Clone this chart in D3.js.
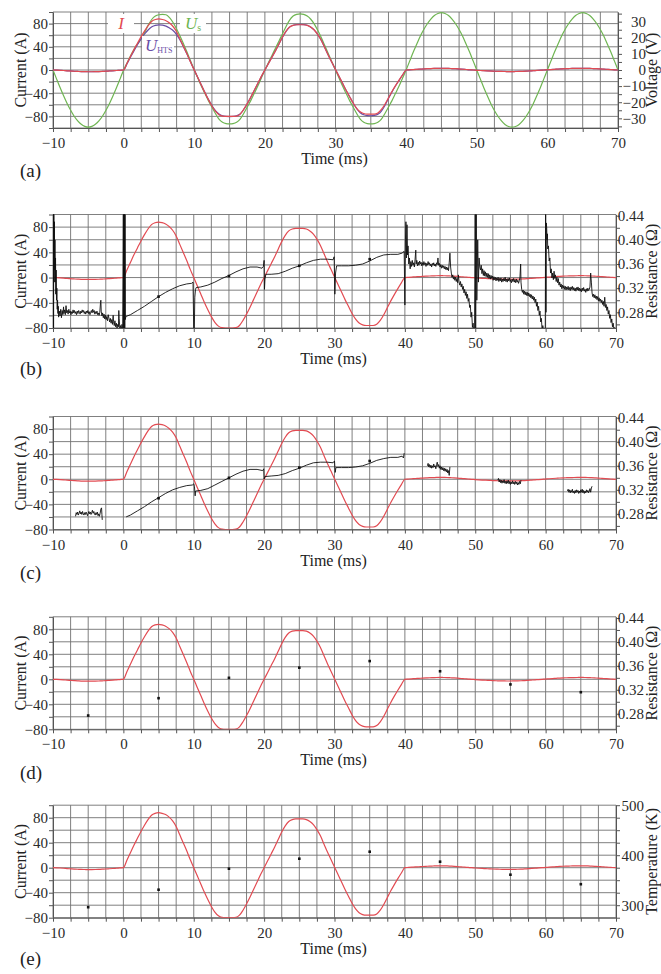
<!DOCTYPE html>
<html><head><meta charset="utf-8">
<script src="https://cdnjs.cloudflare.com/ajax/libs/d3/7.8.5/d3.min.js"></script>
<style>
body{margin:0;background:#fff}
text{font-family:"Liberation Serif","Times New Roman",serif;fill:#222}
</style>
</head><body><script>
// ---------------- DATA ----------------
const timeMs = d3.range(-10, 70.001, 0.5); // sample times (ms), 161 samples
const currentI = [
 0,-0.2,-0.5,-0.9,-1.4,-1.8,-2.2,-2.5,-2.8,-2.9,-3,-3,-2.9,-2.7,-2.4,-2.1,-1.7,-1.3,-0.9,-0.4,0,
 12,24,36,47,58,68,77,84,87,88,87,85,81,75,66,53,40,27,13,0,
 -13,-26,-39,-51,-62,-71,-77,-79.5,-80,-80,-80,-79.5,-76,-68,-58,-47,-35,-23,-11,0,
 11,22,33,45,57,67,74,77,78,78,78,77,74,69,61,51,38,25,13,1,
 -11,-23,-35,-46,-57,-66,-72,-75,-76,-76,-76,-74,-68,-59,-48,-37,-27,-17.5,-8.5,0,
 0.4,0.8,1.2,1.5,1.9,2.2,2.5,2.7,2.9,3,2.9,2.8,2.5,2.2,1.8,1.3,0.9,0.4,0,
 -0.5,-0.9,-1.2,-1.5,-1.8,-2.1,-2.3,-2.5,-2.6,-2.7,-2.7,-2.6,-2.5,-2.3,-2,-1.6,-1.2,-0.8,-0.4,0,
 0.4,0.8,1.2,1.6,2,2.3,2.5,2.7,2.8,2.9,3,2.9,2.8,2.5,2.2,1.9,1.5,1.1,0.7,0.3,0
];
const voltageUs = [
 0,-5.5,-10.9,-16,-20.8,-25,-28.7,-31.6,-33.7,-35,-35.5,-35,-33.7,-31.6,-28.7,-25,-20.8,-16,-10.9,-5.5,0,
 4.5,9,13,16.5,19.5,23.5,28,31.5,33.5,34.3,34.5,34.3,32.5,29.5,25.5,21,16,10.8,5.4,0,
 -5,-10,-14.5,-19,-23,-27,-30.5,-32.5,-33.3,-33.5,-33.3,-32.5,-30.5,-27,-23,-19,-14.5,-10,-5,0,
 4.5,9,13.5,18,22.5,27,31,33.5,34.5,34.8,34.5,33.5,31.5,28.5,24.5,20,15,10,5,0,
 -5,-10,-14.5,-19,-23,-27,-30.5,-32.5,-33.3,-33.5,-33.3,-32.5,-30.5,-27,-23,-19,-14.5,-10,-5,0,
 5.5,11,16,20.9,25.1,28.7,31.6,33.8,35.1,35.6,35.1,33.8,31.6,28.7,25.1,20.9,16,11,5.5,0,
 -5.5,-11,-16,-20.9,-25.1,-28.7,-31.6,-33.8,-35.1,-35.5,-35.1,-33.8,-31.6,-28.7,-25.1,-20.9,-16,-11,-5.5,0,
 5.5,11,16,20.9,25.1,28.7,31.6,33.8,35.1,35.6,35.1,33.8,31.6,28.7,25.1,20.9,16,11,5.5,0
];
const voltageUhts = [
 0,-0.1,-0.2,-0.3,-0.5,-0.6,-0.8,-0.9,-1,-1,-1.1,-1.1,-1,-1,-0.9,-0.8,-0.6,-0.5,-0.3,-0.2,0,
 4,8.2,12.2,16,19.5,22.5,25,26.8,27.7,28,27.8,27.2,26,24.5,22,18.5,14.2,9.6,4.8,0,
 -4.6,-9.3,-13.8,-18.2,-22,-25.2,-27.3,-28.4,-28.8,-28.9,-28.8,-28.4,-27.3,-24.5,-21,-17,-12.7,-8.4,-4.1,0,
 4,8,12,16.2,20.4,24,26.6,27.8,28.2,28.3,28.2,27.8,26.6,24.8,22,18.4,13.7,9,4.6,0.3,
 -4,-8.3,-12.6,-16.6,-20.5,-24,-26.5,-27.8,-28.3,-28.4,-28.2,-27.5,-25.5,-22,-17.7,-13.6,-9.8,-6.4,-3.1,0,
 0.1,0.3,0.4,0.5,0.7,0.8,0.9,1,1,1.1,1,1,0.9,0.8,0.6,0.5,0.3,0.1,0,
 -0.2,-0.3,-0.4,-0.5,-0.6,-0.8,-0.8,-0.9,-0.9,-1,-1,-0.9,-0.9,-0.8,-0.7,-0.6,-0.4,-0.3,-0.1,0,
 0.1,0.3,0.4,0.6,0.7,0.8,0.9,1,1,1,1.1,1,1,0.9,0.8,0.7,0.5,0.4,0.3,0.1,0
];
const dotTimes = [-5,5,15,25,35,45,55,65];
const resistanceDots = [0.277,0.306,0.340,0.357,0.368,0.351,0.329,0.316];
const temperatureDots = [296,331,373,393,407,387,361,342];
const curveDotTimes = [5,15,25,35];

// measured resistance (panel b): [time ms, resistance Ohm]
const resistanceRaw = [
[-10.00,0.45],[-9.98,0.25],[-9.95,0.45],[-9.92,0.25],[-9.88,0.45],[-9.84,0.33],[-9.8,0.43],[-9.76,0.35],[-9.72,0.40],[-9.68,0.33],[-9.64,0.37],[-9.6,0.31],[-9.55,0.35],[-9.5,0.30],[-9.45,0.32],[-9.4,0.285],[-9.35,0.30],[-9.3,0.278],[-9.25,0.29],[-9.2,0.272],[-9.1,0.282],[-9.0,0.274],[-8.9,0.285],[-8.8,0.271],[-8.7,0.283],[-8.6,0.276],[-8.5,0.289],[-8.45,0.278],[-8.35,0.284],[-8.25,0.276],[-8.15,0.291],[-8.05,0.279],[-7.95,0.283],[-7.85,0.277],[-7.75,0.285],[-7.65,0.279],[-7.55,0.282],[-7.45,0.276],[-7.35,0.281],[-7.25,0.278],[-7.15,0.284],[-7.05,0.279],[-6.95,0.283],[-6.85,0.278],[-6.75,0.281],[-6.65,0.276],[-6.55,0.282],[-6.45,0.278],[-6.35,0.283],[-6.25,0.28],[-6.15,0.277],[-6.05,0.282],[-5.95,0.279],[-5.85,0.284],[-5.75,0.28],[-5.65,0.283],[-5.55,0.278],[-5.45,0.281],[-5.35,0.277],[-5.25,0.282],[-5.15,0.279],[-5.05,0.283],[-4.95,0.278],[-4.85,0.281],[-4.75,0.276],[-4.65,0.28],[-4.55,0.283],[-4.45,0.279],[-4.35,0.285],[-4.25,0.28],[-4.15,0.283],[-4.05,0.277],[-3.95,0.281],[-3.85,0.278],[-3.75,0.282],[-3.65,0.276],[-3.55,0.279],[-3.45,0.275],[-3.35,0.28],[-3.25,0.296],[-3.2,0.30],[-3.15,0.282],[-3.05,0.274],[-2.95,0.279],[-2.85,0.271],[-2.75,0.277],[-2.65,0.269],[-2.55,0.275],[-2.45,0.268],[-2.35,0.273],[-2.25,0.266],[-2.15,0.276],[-2.05,0.27],[-1.95,0.264],[-1.85,0.27],[-1.75,0.262],[-1.65,0.268],[-1.55,0.26],[-1.45,0.275],[-1.4,0.265],[-1.3,0.258],[-1.2,0.266],[-1.1,0.256],[-1.0,0.262],[-0.9,0.254],[-0.8,0.26],[-0.7,0.256],[-0.65,0.283],[-0.6,0.27],[-0.5,0.254],[-0.4,0.258],[-0.3,0.25],[-0.2,0.26],[-0.1,0.25],
[0,0.45],[0.04,0.25],[0.08,0.45],[0.12,0.25],[0.16,0.45],[0.2,0.25],[0.24,0.45],[0.28,0.268],
[0.35,0.273],[1,0.276],[2,0.283],[3,0.290],[4,0.298],[5,0.306],[6,0.313],[7,0.319],[8,0.324],[9,0.327],[9.7,0.328],[9.9,0.330],[10.0,0.25],[10.08,0.25],[10.15,0.305],[10.25,0.318],[10.35,0.321],[11,0.322],[12,0.325],[13,0.330],[14,0.336],[15,0.341],[16,0.347],[17,0.352],[18,0.355],[19,0.355],[19.7,0.353],[19.9,0.356],[20.0,0.366],[20.05,0.318],[20.12,0.335],[20.25,0.343],[21,0.343],[22,0.344],[23,0.348],[24,0.353],[25,0.357],[26,0.362],[27,0.366],[28,0.368],[29,0.368],[29.8,0.367],[29.95,0.372],[30.05,0.31],[30.15,0.345],[30.3,0.357],[31,0.357],[32,0.357],[33,0.358],[34,0.36],[35,0.365],[36,0.371],[37,0.375],[38,0.376],[39,0.376],[39.6,0.378],[39.9,0.381],
[40.0,0.292],[40.08,0.40],[40.15,0.43],[40.22,0.37],[40.3,0.425],[40.38,0.375],[40.45,0.39],[40.55,0.36],[40.65,0.37],[40.75,0.352],[40.85,0.364],[40.95,0.356],[41.05,0.366],[41.15,0.358],[41.25,0.362],[41.35,0.355],[41.45,0.368],[41.55,0.383],[41.6,0.36],[41.7,0.366],[41.8,0.357],[41.9,0.363],[42,0.358],[42.1,0.365],[42.2,0.36],[42.3,0.363],[42.4,0.357],[42.5,0.362],[42.6,0.358],[42.7,0.364],[42.8,0.359],[42.9,0.362],[43,0.356],[43.1,0.361],[43.2,0.358],[43.3,0.364],[43.4,0.359],[43.5,0.362],[43.6,0.357],[43.7,0.36],[43.8,0.355],[43.9,0.361],[44,0.358],[44.1,0.362],[44.2,0.357],[44.3,0.36],[44.4,0.356],[44.5,0.362],[44.6,0.359],[44.7,0.37],[44.8,0.358],[44.9,0.361],[45,0.355],[45.1,0.359],[45.2,0.353],[45.3,0.358],[45.4,0.354],[45.5,0.357],[45.6,0.352],[45.7,0.356],[45.8,0.351],[45.9,0.355],[46,0.35],[46.1,0.354],[46.2,0.349],[46.3,0.362],[46.4,0.378],[46.5,0.355],[46.6,0.345],[46.7,0.338],[46.8,0.342],[46.9,0.335],[47,0.339],[47.1,0.333],[47.2,0.338],[47.3,0.331],[47.4,0.336],[47.5,0.329],[47.6,0.342],[47.7,0.33],[47.8,0.325],[47.9,0.331],[48,0.322],[48.1,0.327],[48.2,0.318],[48.3,0.323],[48.4,0.312],[48.5,0.318],[48.6,0.308],[48.7,0.314],[48.8,0.303],[48.9,0.31],[49,0.298],[49.1,0.303],[49.2,0.288],[49.3,0.292],[49.4,0.272],[49.5,0.28],[49.6,0.255],[49.7,0.262],[49.8,0.245],[49.9,0.25],
[50.0,0.45],[50.06,0.25],[50.14,0.45],[50.22,0.30],[50.35,0.40],[50.45,0.33],[50.55,0.37],[50.65,0.355],[50.75,0.35],[50.85,0.358],[50.95,0.344],[51.05,0.352],[51.15,0.341],[51.25,0.349],[51.35,0.34],[51.45,0.347],[51.55,0.339],[51.65,0.345],[51.75,0.338],[51.85,0.344],[51.95,0.336],[52.05,0.342],[52.15,0.335],[52.25,0.341],[52.35,0.336],[52.45,0.34],[52.55,0.333],[52.65,0.339],[52.75,0.334],[52.85,0.338],[52.95,0.332],[53.05,0.337],[53.15,0.333],[53.25,0.338],[53.35,0.331],[53.45,0.336],[53.55,0.332],[53.65,0.337],[53.75,0.33],[53.85,0.335],[53.95,0.331],[54.05,0.336],[54.15,0.332],[54.25,0.338],[54.35,0.331],[54.45,0.335],[54.55,0.33],[54.65,0.336],[54.75,0.332],[54.85,0.337],[54.95,0.331],[55.05,0.334],[55.15,0.329],[55.25,0.335],[55.35,0.331],[55.45,0.336],[55.55,0.33],[55.65,0.334],[55.75,0.329],[55.85,0.335],[55.95,0.33],[56.05,0.333],[56.15,0.328],[56.25,0.332],[56.35,0.338],[56.45,0.36],[56.5,0.33],[56.6,0.318],[56.7,0.313],[56.8,0.317],[56.9,0.31],[57,0.315],[57.1,0.309],[57.2,0.314],[57.3,0.308],[57.4,0.313],[57.5,0.307],[57.6,0.312],[57.7,0.306],[57.8,0.31],[57.9,0.304],[58,0.309],[58.1,0.302],[58.2,0.307],[58.3,0.3],[58.4,0.305],[58.5,0.296],[58.6,0.302],[58.7,0.29],[58.8,0.297],[58.9,0.283],[59,0.29],[59.1,0.275],[59.2,0.282],[59.3,0.264],[59.4,0.27],[59.5,0.25],[59.6,0.258],[59.7,0.25],
[59.95,0.25],[60.0,0.45],[60.05,0.28],[60.1,0.428],[60.15,0.42],[60.2,0.40],[60.25,0.41],[60.3,0.385],[60.4,0.39],[60.5,0.365],[60.6,0.37],[60.7,0.345],[60.8,0.352],[60.9,0.337],[61,0.345],[61.1,0.334],[61.2,0.348],[61.3,0.336],[61.4,0.342],[61.5,0.331],[61.6,0.338],[61.7,0.329],[61.8,0.336],[61.9,0.325],[62,0.33],[62.1,0.322],[62.2,0.327],[62.3,0.319],[62.4,0.325],[62.5,0.32],[62.6,0.324],[62.7,0.318],[62.8,0.323],[62.9,0.317],[63,0.322],[63.1,0.318],[63.2,0.323],[63.3,0.317],[63.4,0.321],[63.5,0.316],[63.6,0.322],[63.7,0.318],[63.8,0.323],[63.9,0.317],[64,0.321],[64.1,0.316],[64.2,0.32],[64.3,0.315],[64.4,0.321],[64.5,0.317],[64.6,0.322],[64.7,0.316],[64.8,0.32],[64.9,0.315],[65,0.319],[65.1,0.314],[65.2,0.32],[65.3,0.316],[65.4,0.321],[65.5,0.315],[65.6,0.318],[65.7,0.313],[65.8,0.319],[65.9,0.315],[66,0.32],[66.1,0.316],[66.2,0.318],[66.3,0.322],[66.4,0.345],[66.5,0.33],[66.6,0.312],[66.7,0.306],[66.8,0.31],[66.9,0.304],[67,0.309],[67.1,0.303],[67.2,0.307],[67.3,0.301],[67.4,0.306],[67.5,0.299],[67.6,0.304],[67.7,0.298],[67.8,0.302],[67.9,0.296],[68,0.3],[68.1,0.293],[68.2,0.298],[68.3,0.29],[68.4,0.305],[68.5,0.288],[68.6,0.293],[68.7,0.283],[68.8,0.289],[68.9,0.277],[69,0.283],[69.1,0.27],[69.2,0.276],[69.3,0.263],[69.4,0.269],[69.5,0.256],[69.6,0.262],[69.7,0.252],[69.8,0.255]
];
// filtered resistance (panel c): segments separated by null
const resistanceFiltered = [
[-6.8,0.276],[-6.7,0.282],[-6.6,0.279],[-6.5,0.283],[-6.4,0.278],[-6.3,0.281],[-6.2,0.285],[-6.1,0.28],[-6.0,0.283],[-5.9,0.279],[-5.8,0.284],[-5.7,0.28],[-5.6,0.278],[-5.5,0.282],[-5.4,0.279],[-5.3,0.283],[-5.2,0.28],[-5.1,0.277],[-5.0,0.281],[-4.9,0.284],[-4.8,0.28],[-4.7,0.283],[-4.6,0.279],[-4.5,0.282],[-4.4,0.286],[-4.3,0.281],[-4.2,0.284],[-4.1,0.28],[-4.0,0.278],[-3.9,0.282],[-3.8,0.279],[-3.7,0.283],[-3.6,0.277],[-3.5,0.28],[-3.4,0.276],[-3.3,0.281],[-3.2,0.288],[-3.1,0.29],[-3.05,0.279],[-3.0,0.27],null,
[0.4,0.275],[1,0.278],[2,0.285],[3,0.292],[4,0.300],[5,0.307],[6,0.314],[7,0.320],[8,0.324],[9,0.327],[9.8,0.328],[10.0,0.33],[10.1,0.325],[10.2,0.31],[10.25,0.318],[11,0.319],[12,0.322],[13,0.328],[14,0.334],[15,0.340],[16,0.346],[17,0.351],[18,0.354],[19,0.354],[19.8,0.352],[19.95,0.355],[20.0,0.338],[20.1,0.342],[21,0.343],[22,0.344],[23,0.347],[24,0.352],[25,0.356],[26,0.361],[27,0.365],[28,0.366],[29,0.366],[29.8,0.365],[30,0.368],[30.1,0.349],[30.2,0.357],[31,0.357],[32,0.357],[33,0.358],[34,0.360],[35,0.364],[36,0.369],[37,0.372],[38,0.374],[39,0.374],[39.6,0.376],[39.8,0.373],[39.9,0.381],null,
[43.2,0.36],[43.3,0.364],[43.4,0.358],[43.5,0.362],[43.6,0.357],[43.7,0.361],[43.8,0.356],[43.9,0.36],[44,0.357],[44.1,0.363],[44.2,0.358],[44.3,0.36],[44.4,0.355],[44.5,0.362],[44.6,0.366],[44.7,0.359],[44.8,0.362],[44.9,0.356],[45,0.36],[45.1,0.354],[45.2,0.358],[45.3,0.353],[45.4,0.357],[45.5,0.352],[45.6,0.356],[45.7,0.351],[45.8,0.355],[45.9,0.35],[46,0.354],[46.1,0.348],[46.2,0.352],[46.3,0.344],[46.4,0.358],null,
[53.2,0.336],[53.3,0.339],[53.4,0.333],[53.5,0.337],[53.6,0.332],[53.7,0.336],[53.8,0.331],[53.9,0.335],[54,0.332],[54.1,0.337],[54.2,0.331],[54.3,0.334],[54.4,0.33],[54.5,0.335],[54.6,0.331],[54.7,0.336],[54.8,0.33],[54.9,0.334],[55,0.329],[55.1,0.333],[55.2,0.33],[55.3,0.335],[55.4,0.33],[55.5,0.333],[55.6,0.329],[55.7,0.334],[55.8,0.33],[55.9,0.333],[56,0.328],[56.1,0.332],[56.2,0.329],[56.3,0.334],[56.4,0.33],[56.5,0.336],null,
[63.1,0.318],[63.2,0.321],[63.3,0.316],[63.4,0.32],[63.5,0.315],[63.6,0.319],[63.7,0.316],[63.8,0.321],[63.9,0.315],[64,0.318],[64.1,0.314],[64.2,0.319],[64.3,0.315],[64.4,0.32],[64.5,0.316],[64.6,0.319],[64.7,0.314],[64.8,0.318],[64.9,0.315],[65,0.32],[65.1,0.316],[65.2,0.321],[65.3,0.315],[65.4,0.319],[65.5,0.314],[65.6,0.318],[65.7,0.315],[65.8,0.32],[65.9,0.316],[66,0.319],[66.1,0.315],[66.2,0.318],[66.3,0.322],[66.4,0.316],[66.5,0.323],[66.6,0.326]
];
const xTickLabels = [-10,0,10,20,30,40,50,60,70];
const currentTickLabels = [-80,-40,0,40,80];
const voltageTickLabels = [-30,-20,-10,0,10,20,30];
const resistanceTickLabels = [0.28,0.32,0.36,0.40,0.44];
const temperatureTickLabels = [300,400,500];

// ---------------- DRAWING ----------------
const RED="#e24b52", GREEN="#6fb552", PURPLE="#6a4ea6";
const FONT='"Liberation Serif","Times New Roman",serif';
const svg = d3.select("body").append("svg").attr("width",661).attr("height",974);
let clipId=0;
const minus = s=>String(s).replace("-","\u2212");

function makePanel(p){
  const x = d3.scaleLinear().domain([-10,70]).range([p.left,p.right]);
  const y = d3.scaleLinear().domain(p.yDom).range([p.bottom,p.top]);
  const y2 = d3.scaleLinear().domain(p.y2Dom).range([p.bottom,p.top]);
  const g = svg.append("g");
  const grid = g.append("g").attr("stroke","#727272").attr("stroke-width",0.9);
  grid.selectAll("line.v").data(d3.range(-10,70.001,2.5)).join("line").attr("class","v")
    .attr("x1",d=>x(d)).attr("x2",d=>x(d)).attr("y1",p.top).attr("y2",p.bottom);
  grid.selectAll("line.h").data(d3.range(p.yDom[0],p.yDom[1]+0.001,20)).join("line").attr("class","h")
    .attr("x1",p.left).attr("x2",p.right).attr("y1",d=>y(d)).attr("y2",d=>y(d));
  const id="clip"+(clipId++);
  svg.append("clipPath").attr("id",id).append("rect")
    .attr("x",p.left).attr("y",p.top).attr("width",p.right-p.left).attr("height",p.bottom-p.top);
  const xa = g.append("g").attr("transform",`translate(0,${p.bottom})`)
    .call(d3.axisBottom(x).tickValues(d3.range(-10,70.001,2.5)).tickSize(4).tickPadding(5.5).tickSizeOuter(0)
      .tickFormat(d=> xTickLabels.includes(d)? minus(d) : ""));
  const ya = g.append("g").attr("transform",`translate(${p.left},0)`)
    .call(d3.axisLeft(y).tickValues(d3.range(p.yDom[0],p.yDom[1]+0.001,20)).tickSize(4).tickPadding(1).tickSizeOuter(0)
      .tickFormat(d=> currentTickLabels.includes(d)? minus(d) : ""));
  const ra = g.append("g").attr("transform",`translate(${p.right},0)`)
    .call(d3.axisRight(y2).tickValues(p.y2Minor).tickSize(4).tickSizeOuter(0)
      .tickFormat(d=> p.y2Labels.some(v=>Math.abs(v-d)<1e-9)? p.y2Fmt(d) : ""));
  ra.selectAll("text").attr("x",28).attr("text-anchor","end");
  [xa,ya,ra].forEach(a=>{
    a.attr("font-family",FONT);
    a.selectAll("path.domain").attr("stroke","#555").attr("stroke-width",1);
    a.selectAll(".tick line").attr("stroke","#555");
    a.selectAll("text").style("font-family",FONT).attr("font-size",15).style("fill","#2a2a2a");
  });
  g.append("text").attr("x",(p.left+p.right)/2 - 1).attr("y",p.bottom+32.5).attr("text-anchor","middle")
    .attr("dominant-baseline","middle").attr("font-size",16).text("Time (ms)");
  g.append("text").attr("transform",`translate(22,${(p.top+p.bottom)/2}) rotate(-90)`)
    .attr("text-anchor","middle").attr("dominant-baseline","middle").attr("font-size",16).text("Current (A)");
  g.append("text").attr("transform",`translate(653,${(p.top+p.bottom)/2}) rotate(-90)`)
    .attr("text-anchor","middle").attr("dominant-baseline","middle").attr("font-size",16).text(p.y2Title);
  g.append("text").attr("x",20).attr("y",p.bottom+p.labelDy).attr("dominant-baseline","middle")
    .attr("font-size",19).text(p.letter);
  const plot = g.append("g").attr("clip-path",`url(#${id})`);
  return {x,y,y2,g,plot};
}

const resFmt = d=>d3.format(".2f")(d);
const resMinor = d3.range(0.26,0.4401,0.02).map(v=>+v.toFixed(2));
const panels = [
 {top:12,bottom:128,left:53,right:618,yDom:[-100,100],y2Dom:[-36,36],y2Minor:d3.range(-35,35.01,5),
  y2Labels:voltageTickLabels,y2Fmt:minus,y2Title:"Voltage (V)",letter:"(a)",labelDy:45},
 {top:214.5,bottom:328,left:53,right:616,yDom:[-80,100],y2Dom:[0.254,0.442],y2Minor:resMinor,
  y2Labels:resistanceTickLabels,y2Fmt:resFmt,y2Title:"Resistance (\u03A9)",letter:"(b)",labelDy:43},
 {top:416.5,bottom:529.5,left:53,right:616,yDom:[-80,100],y2Dom:[0.254,0.442],y2Minor:resMinor,
  y2Labels:resistanceTickLabels,y2Fmt:resFmt,y2Title:"Resistance (\u03A9)",letter:"(c)",labelDy:45},
 {top:616.8,bottom:729.3,left:53,right:616,yDom:[-80,100],y2Dom:[0.254,0.442],y2Minor:resMinor,
  y2Labels:resistanceTickLabels,y2Fmt:resFmt,y2Title:"Resistance (\u03A9)",letter:"(d)",labelDy:45},
 {top:805.2,bottom:917.7,left:53,right:616,yDom:[-80,100],y2Dom:[275,500],y2Minor:d3.range(275,500.01,25),
  y2Labels:temperatureTickLabels,y2Fmt:d=>String(d),y2Title:"Temperature (K)",letter:"(e)",labelDy:43}
];
const P = panels.map(makePanel);

function drawSeries(pp, scaleY, vals, color, w){
  pp.plot.append("path").datum(timeMs.map((t,i)=>[t,vals[i]]))
    .attr("fill","none").attr("stroke",color).attr("stroke-width",w)
    .attr("d", d3.line().x(d=>pp.x(d[0])).y(d=>scaleY(d[1])).curve(d3.curveMonotoneX));
}
function drawRes(pp, data){
  pp.plot.append("path").datum(data)
    .attr("fill","none").attr("stroke","#111").attr("stroke-width",0.9)
    .attr("d", d3.line().defined(d=>d!==null).x(d=>pp.x(d[0])).y(d=>pp.y2(d[1])));
}
function drawDots(pp, times, vals, scaleY){
  pp.plot.append("g").selectAll("rect").data(times.map((t,i)=>[t,vals[i]])).join("rect")
    .attr("x",d=>pp.x(d[0])-1.3).attr("y",d=>scaleY(d[1])-1.3).attr("width",2.6).attr("height",2.6).attr("fill","#111");
}

// panel (a)
const A = P[0];
const leg = A.g.append("g");
leg.append("rect").attr("x",108).attr("y",14).attr("width",26).attr("height",19).attr("fill","#fff");
leg.append("rect").attr("x",180).attr("y",14).attr("width",26).attr("height",19).attr("fill","#fff");
leg.append("rect").attr("x",142).attr("y",36).attr("width",32).attr("height",20).attr("fill","#fff");
drawSeries(A, A.y2, voltageUs, GREEN, 1.2);
drawSeries(A, A.y2, voltageUhts, PURPLE, 1.2);
drawSeries(A, A.y, currentI, RED, 1.2);
leg.raise();
leg.append("text").attr("x",121).attr("y",29).attr("text-anchor","middle").attr("font-style","italic")
  .attr("font-size",17).style("fill",RED).text("I");
const us = leg.append("text").attr("x",185).attr("y",29).attr("font-style","italic").attr("font-size",17).style("fill",GREEN);
us.append("tspan").text("U");
us.append("tspan").attr("dy",2).attr("font-size",10).attr("font-style","normal").text("s");
const uh = leg.append("text").attr("x",145).attr("y",51).attr("font-style","italic").attr("font-size",17).style("fill",PURPLE);
uh.append("tspan").text("U");
uh.append("tspan").attr("dy",2).attr("font-size",8).attr("font-style","normal").text("HTS");

// panel (b)
drawSeries(P[1], P[1].y, currentI, RED, 1.2);
drawRes(P[1], resistanceRaw);
drawDots(P[1], curveDotTimes, curveDotTimes.map(t=>resistanceDots[dotTimes.indexOf(t)]), P[1].y2);
// panel (c)
drawSeries(P[2], P[2].y, currentI, RED, 1.2);
drawRes(P[2], resistanceFiltered);
drawDots(P[2], curveDotTimes, curveDotTimes.map(t=>resistanceDots[dotTimes.indexOf(t)]), P[2].y2);
// panel (d)
drawSeries(P[3], P[3].y, currentI, RED, 1.2);
drawDots(P[3], dotTimes, resistanceDots, P[3].y2);
// panel (e)
drawSeries(P[4], P[4].y, currentI, RED, 1.2);
drawDots(P[4], dotTimes, temperatureDots, P[4].y2);
</script></body></html>
